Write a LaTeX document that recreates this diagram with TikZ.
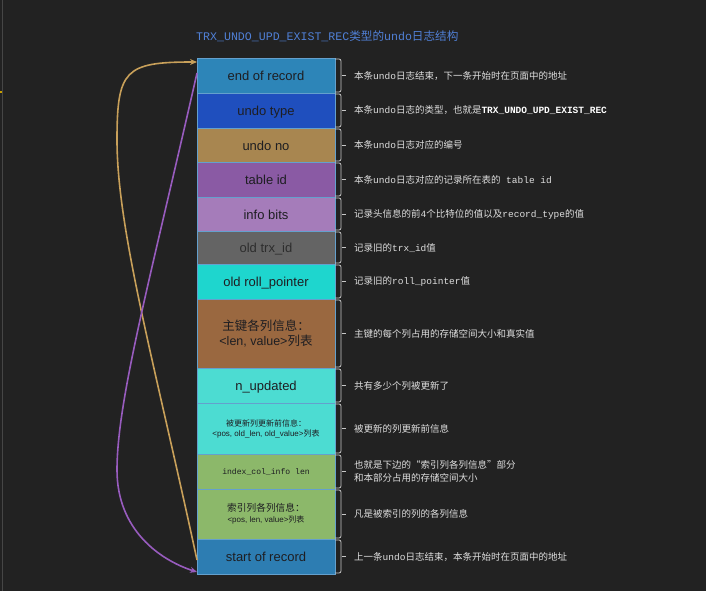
\documentclass[tikz,border=0pt]{standalone}
\usepackage{fontspec}
\setmainfont{Liberation Sans}
\newfontfamily\cjkf{Noto Sans CJK SC}
\newfontfamily\monof{Liberation Mono}
\usetikzlibrary{arrows.meta}
\definecolor{bgc}{RGB}{34,34,34}
\definecolor{boxline}{RGB}{100,160,205}
\definecolor{boxtext}{RGB}{30,30,34}
\definecolor{rtext}{RGB}{222,222,222}
\definecolor{titlec}{RGB}{80,128,214}
\definecolor{cA}{RGB}{45,133,184}
\definecolor{cB}{RGB}{31,79,190}
\definecolor{cC}{RGB}{168,134,80}
\definecolor{cD}{RGB}{138,90,164}
\definecolor{cE}{RGB}{165,124,186}
\definecolor{cF}{RGB}{100,100,100}
\definecolor{cG}{RGB}{30,214,206}
\definecolor{cH}{RGB}{154,104,64}
\definecolor{cI}{RGB}{76,220,210}
\definecolor{cJ}{RGB}{140,184,106}
\definecolor{cK}{RGB}{45,125,178}
\definecolor{tanc}{RGB}{200,160,90}
\definecolor{purc}{RGB}{152,92,190}
\tikzset{
  fieldbox/.style={draw=boxline, line width=0.8pt, minimum width=138pt,
    inner sep=0pt, outer sep=0pt, text=boxtext, align=center,
    font=\fontsize{13}{15}\selectfont},
  oneline/.style={text height=10.4pt, text depth=0pt},
  brk/.style={draw=rtext!90!black, line width=0.8pt, rounded corners=2pt},
  tick/.style={draw=rtext!90!black, line width=0.8pt},
  rt/.style={anchor=west, text=rtext, inner sep=0pt, align=left,
    font=\cjkf\fontsize{9.5}{13}\selectfont},
  linkarrow/.style={line width=1.6pt, -{Stealth[length=7pt,width=6pt]}}
}
\begin{document}
\begin{tikzpicture}[x=1pt,y=-1pt]
\fill[bgc] (0,0) rectangle (706,591);
\useasboundingbox (0,0) rectangle (706,591);
\draw[line width=1pt, color={rgb,255:red,70;green,70;blue,70}] (2.5,0) -- (2.5,591);
\fill[color={rgb,255:red,200;green,160;blue,0}] (0,91) rectangle (2,93);

% title
\node[anchor=west, inner sep=0pt, text=titlec, font=\monof\fontsize{11.6}{14}\selectfont] (title) at (196,36)
  {TRX\_UNDO\_UPD\_EXIST\_REC{\cjkf 类型的}undo{\cjkf 日志结构}};

% boxes
\node[fieldbox, oneline, fill=cA, minimum height=35pt] (b1) at (266,75.5) {end of record};
\node[fieldbox, oneline, fill=cB, minimum height=35pt] (b2) at (266,110.5) {undo type};
\node[fieldbox, oneline, fill=cC, minimum height=34pt] (b3) at (266,145) {undo no};
\node[fieldbox, oneline, fill=cD, minimum height=35pt] (b4) at (266,179.5) {table id};
\node[fieldbox, oneline, fill=cE, minimum height=34pt] (b5) at (266,214) {info bits};
\node[fieldbox, oneline, fill=cF, minimum height=33pt, text={rgb,255:red,45;green,45;blue,45}] (b6) at (266,247.5) {old trx\_id};
\node[fieldbox, oneline, fill=cG, minimum height=35pt] (b7) at (266,281.5) {old roll\_pointer};
\node[fieldbox, fill=cH, minimum height=69pt, font=\fontsize{12.5}{15}\selectfont] (b8) at (266,333.5)
  {{\cjkf 主键各列信息：}\\<len, value>{\cjkf 列表}};
\node[fieldbox, oneline, fill=cI, minimum height=35pt] (b9) at (266,385.5) {n\_updated};
\node[fieldbox, fill=cI, minimum height=51pt, font=\fontsize{8}{10}\selectfont] (b10) at (266,428.5)
  {{\cjkf 被更新列更新前信息：}\\<pos, old\_len, old\_value>{\cjkf 列表}};
\node[fieldbox, fill=cJ, minimum height=35pt, font=\monof\fontsize{8.1}{10}\selectfont] (b11) at (266,471.5) {index\_col\_info len};
\node[fieldbox, fill=cJ, minimum height=50pt, font=\fontsize{8}{11}\selectfont] (b12) at (266,514)
  {{\cjkf\fontsize{9.7}{11}\selectfont 索引列各列信息：}\\<pos, len, value>{\cjkf 列表}};
\node[fieldbox, oneline, fill=cK, minimum height=35pt] (b13) at (266,556.5) {start of record};

% brackets
\foreach \b in {b1,b2,b3,b4,b5,b6,b7,b8,b9,b10,b11,b12,b13}{
  \draw[brk] ([yshift=-1pt]\b.north east) -| ([xshift=6pt]\b.east) |- ([yshift=1pt]\b.south east);
  \draw[tick] ([xshift=6.5pt]\b.east) -- ([xshift=10.5pt]\b.east);
}

% descriptions
\node[rt] (t1) at (354,75.5) {本条{\monof undo}日志结束，下一条开始时在页面中的地址};
\node[rt] (t2) at (354,110.5) {本条{\monof undo}日志的类型，也就是{\monof\bfseries\color{white}TRX\_UNDO\_UPD\_EXIST\_REC}};
\node[rt] (t3) at (354,145) {本条{\monof undo}日志对应的编号};
\node[rt] (t4) at (354,179.5) {本条{\monof undo}日志对应的记录所在表的{\monof\ table id}};
\node[rt] (t5) at (354,214) {记录头信息的前{\monof 4}个比特位的值以及{\monof record\_type}的值};
\node[rt] (t6) at (354,247.5) {记录旧的{\monof trx\_id}值};
\node[rt] (t7) at (354,281.5) {记录旧的{\monof roll\_pointer}值};
\node[rt] (t8) at (354,333.5) {主键的每个列占用的存储空间大小和真实值};
\node[rt] (t9) at (354,385.5) {共有多少个列被更新了};
\node[rt] (t10) at (354,428.5) {被更新的列更新前信息};
\node[rt] (t11) at (354,471.5) {也就是下边的“索引列各列信息”部分\\和本部分占用的存储空间大小};
\node[rt] (t12) at (354,514) {凡是被索引的列的各列信息};
\node[rt] (t13) at (354,556.5) {上一条{\monof undo}日志结束，本条开始时在页面中的地址};

% link arrows
\coordinate (tanA) at ([yshift=-3.5pt]b13.west);
\coordinate (tanB) at ([yshift=-4pt]b1.north west);
\coordinate (purA) at ([yshift=2.5pt]b1.west);
\coordinate (purB) at ([yshift=2pt]b13.south west);
\draw[linkarrow, tanc] (tanA) .. controls (155,365) and (117,230) .. (117,140)
   .. controls (117,70) and (125,62) .. (tanB);
\draw[linkarrow, purc] (purA) .. controls (150,280) and (117,400) .. (117,470)
   .. controls (117,530) and (160,560) .. (purB);
\end{tikzpicture}
\end{document}
